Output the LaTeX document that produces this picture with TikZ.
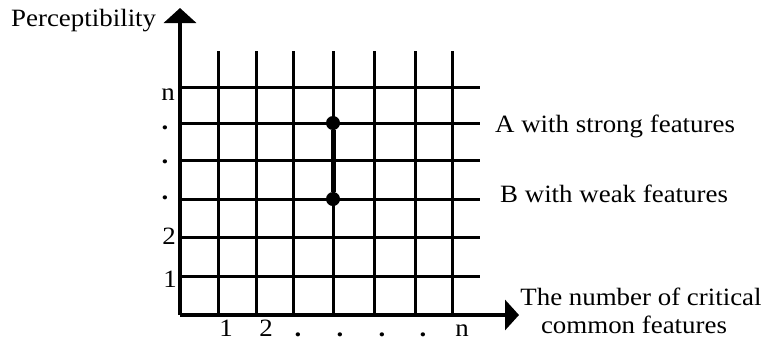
\documentclass[tikz,border=0pt]{standalone}
\usepackage{fontspec}
\setmainfont{Liberation Serif}[FakeStretch=1.08]
\usetikzlibrary{arrows.meta}
\begin{document}
\begin{tikzpicture}[x=1bp, y=-1bp,
  gridline/.style={line width=3bp, black},
  axisline/.style={line width=4.5bp, black},
  lbl/.style={font=\fontsize{25}{28}\selectfont, inner sep=0pt},
  dotlbl/.style={font=\fontsize{25}{28}\selectfont\bfseries, inner sep=0pt},
  pt/.style={circle, fill=black, inner sep=0pt, minimum size=14bp},
  seg/.style={line width=5bp}]
\useasboundingbox (0,0) rectangle (773,342);
% grid
\foreach \x in {218,256,293,333,374,415,452}
  \draw[gridline] (\x,51) -- (\x,315);
\foreach \y in {87,123,160,199,237,276}
  \draw[gridline] (180,\y) -- (480,\y);
% axes
\coordinate (O) at (180,315);
\coordinate (ytip) at (180,8);
\coordinate (xtip) at (519,315);
\draw[axisline, -{Triangle[length=15bp, width=32bp]}] (O) -- (ytip);
\draw[axisline, -{Triangle[length=14bp, width=30bp]}] (O) -- (xtip);
% points
\node[pt] (A) at (333,123) {};
\node[pt] (B) at (333,199) {};
\draw[seg] (A) -- (B);
% labels
\node[lbl, anchor=base west] (ylab) at (11,26) {Perceptibility};
\node[lbl, anchor=base west] (la) at (495,132) {A with strong features};
\node[lbl, anchor=base west] (lb) at (500,202) {B with weak features};
\node[lbl, anchor=base] (xl1) at (641,305) {The number of critical};
\node[lbl, anchor=base] (xl2) at (634,333) {common features};
% y tick labels
\node[lbl, anchor=base] (yn) at (168,100) {n};
\node[dotlbl, anchor=base] (yd1) at (165,129) {.};
\node[dotlbl, anchor=base] (yd2) at (165,163) {.};
\node[dotlbl, anchor=base] (yd3) at (165,199) {.};
\node[lbl, anchor=base] (y2) at (169,244) {2};
\node[lbl, anchor=base] (y1) at (170,287) {1};
% x tick labels
\node[lbl, anchor=base] (x1) at (226,336) {1};
\node[lbl, anchor=base] (x2) at (266,336) {2};
\node[dotlbl, anchor=base] (xd1) at (298,336) {.};
\node[dotlbl, anchor=base] (xd2) at (340,336) {.};
\node[dotlbl, anchor=base] (xd3) at (382,336) {.};
\node[dotlbl, anchor=base] (xd4) at (423,336) {.};
\node[lbl, anchor=base] (xn) at (462,336) {n};
\end{tikzpicture}
\end{document}
